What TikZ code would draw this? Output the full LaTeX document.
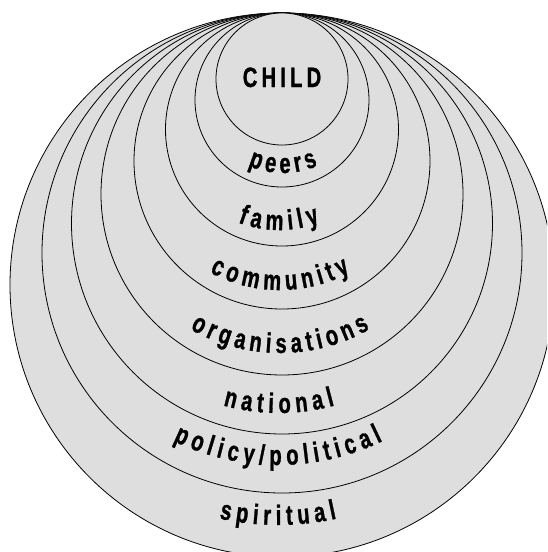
\documentclass[tikz,border=0pt]{standalone}
\usepackage{fontspec}
\setmainfont{Liberation Sans}[FakeStretch=0.72, FakeBold=1, LetterSpace=15]
\usetikzlibrary{decorations.text}
\definecolor{ringgray}{HTML}{DEDEDE}

\begin{document}
\bfseries\fontsize{28}{28}\selectfont
\begin{tikzpicture}[
    x=1pt, y=1pt,
    ring/.style={
        fill=ringgray,
        draw=black,
        line width=0.8pt
    },
    bandtext/.style={
        postaction={
            decorate,
            decoration={
                text along path,
                text={#1},
                text align={fit to path}
            }
        }
    }
]
    \useasboundingbox (-282,13) rectangle (265,-539);
    \clip (-282,13) rectangle (265,-539);

    % Rings, outermost first, all touching at the top
    \draw[ring] (0,-272) circle[radius=272];
    \draw[ring] (0,-240) circle[radius=240];
    \draw[ring] (0,-210.5) circle[radius=210.5];
    \draw[ring] (0,-181) circle[radius=181];
    \draw[ring] (0,-148) circle[radius=148];
    \draw[ring] (0,-116.5) circle[radius=116.5];
    \draw[ring] (0,-87) circle[radius=87];
    \draw[ring] (0,-66) circle[radius=66];

    % Child
    \node[anchor=base, inner sep=0pt, font=\fontsize{28}{28}\selectfont] (child) at (0,-74) {CHILD};

    % Band labels, spread along arcs
    \path[bandtext=peers] (1,-73) ++(246.3:87) arc[start angle=246.3, end angle=293.7, radius=87];
    \path[bandtext=family] (-3,-100.5) ++(249.4:116.5) arc[start angle=249.4, end angle=290.6, radius=116.5];
    \path[bandtext=community] (-2,-129) ++(241.6:148) arc[start angle=241.6, end angle=298.4, radius=148];
    \path[bandtext=organisations] (-2,-159) ++(240.2:181) arc[start angle=240.2, end angle=299.8, radius=181];
    \path[bandtext=national] (-3,-189.5) ++(254.6:210.5) arc[start angle=254.6, end angle=285.4, radius=210.5];
    \path[bandtext=policy/political] (-4,-212) ++(244.1:240) arc[start angle=244.1, end angle=295.9, radius=240];
    \path[bandtext=spiritual] (-4,-240) ++(257.5:272) arc[start angle=257.5, end angle=282.5, radius=272];
\end{tikzpicture}
\end{document}
